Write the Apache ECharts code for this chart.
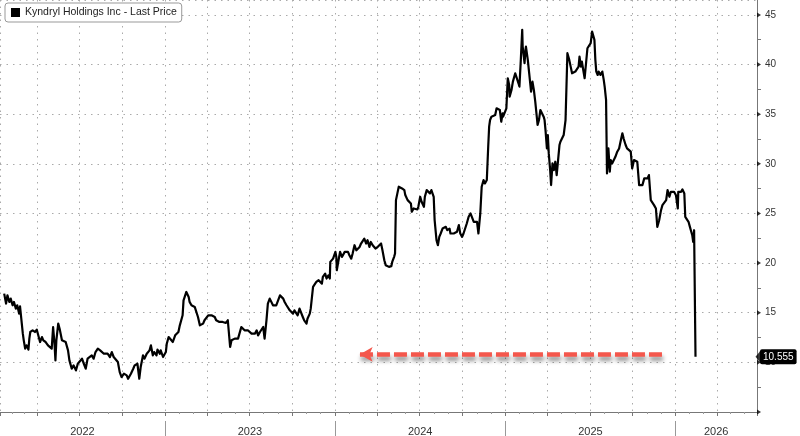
<!DOCTYPE html>
<html>
<head>
<meta charset="utf-8">
<script src="https://cdn.jsdelivr.net/npm/echarts@6/dist/echarts.min.js"></script>
<style>
  html, body { margin: 0; padding: 0; background: #fff; }
  #chart { width: 800px; height: 436px; }
</style>
</head>
<body>
<div id="chart"></div>
<script>
const FONT = "'Liberation Sans', Arial, sans-serif";
const seriesName = "Kyndryl Holdings Inc - Last Price";

// axis range + labels
const xMin = "2022-01-12";
const xMax = "2026-06-25";
const yMin = 5;
const yMax = 46.5;
const yTicks = [5, 10, 15, 20, 25, 30, 35, 40, 45];
const yLabels = [10, 15, 20, 25, 30, 35, 40, 45];
const yearStarts = ["2023-01-01", "2024-01-01", "2025-01-01", "2026-01-01"];
const yearLabels = ["2022", "2023", "2024", "2025", "2026"];

// price, [date, last price]
const px2022 = [
  ["2022-01-21", 16.92], ["2022-01-25", 15.92], ["2022-01-28", 16.76], ["2022-02-01", 16.08], ["2022-02-04", 16.42],
  ["2022-02-08", 15.75], ["2022-02-11", 16.08], ["2022-02-15", 15.41], ["2022-02-18", 15.75], ["2022-02-22", 14.91],
  ["2022-02-24", 15.65], ["2022-02-28", 15.85], ["2022-03-02", 12.89], ["2022-03-04", 12.22], ["2022-03-07", 11.38],
  ["2022-03-10", 11.71], ["2022-03-14", 11.28], ["2022-03-16", 12.39], ["2022-03-18", 13.06], ["2022-03-23", 13.23],
  ["2022-03-28", 13.06], ["2022-04-01", 13.29], ["2022-04-05", 13.39], ["2022-04-08", 12.05], ["2022-04-12", 12.55],
  ["2022-04-15", 12.22], ["2022-04-20", 12.05], ["2022-04-25", 11.71], ["2022-04-29", 11.88], ["2022-05-03", 11.38],
  ["2022-05-06", 13.56], ["2022-05-09", 11.88], ["2022-05-11", 10.2], ["2022-05-13", 12.22], ["2022-05-17", 13.9],
  ["2022-05-20", 13.39], ["2022-05-25", 12.22], ["2022-05-29", 12.39], ["2022-06-02", 12.05], ["2022-06-07", 11.21],
  ["2022-06-10", 10.2], ["2022-06-15", 9.36], ["2022-06-19", 9.7], ["2022-06-24", 9.19], ["2022-06-28", 9.86],
  ["2022-07-01", 10.03], ["2022-07-07", 10.37], ["2022-07-11", 9.86], ["2022-07-15", 9.36], ["2022-07-19", 10.37],
  ["2022-07-22", 10.2], ["2022-07-28", 10.7], ["2022-08-01", 10.37], ["2022-08-05", 11.04], ["2022-08-10", 11.38],
  ["2022-08-15", 11.21], ["2022-08-19", 11.38], ["2022-08-23", 10.87], ["2022-08-26", 10.7], ["2022-08-31", 10.87],
  ["2022-09-05", 10.54], ["2022-09-09", 11.04], ["2022-09-13", 10.54], ["2022-09-16", 10.37], ["2022-09-22", 10.03],
  ["2022-09-26", 9.02], ["2022-09-30", 8.52], ["2022-10-05", 8.86], ["2022-10-11", 8.69], ["2022-10-14", 8.35],
  ["2022-10-20", 8.86], ["2022-10-25", 9.36], ["2022-10-28", 9.7], ["2022-11-03", 9.86], ["2022-11-07", 8.35],
  ["2022-11-10", 9.53], ["2022-11-15", 10.71], ["2022-11-18", 10.37], ["2022-11-23", 10.87], ["2022-11-29", 11.21],
  ["2022-12-02", 11.71], ["2022-12-06", 10.71], ["2022-12-09", 11.04], ["2022-12-14", 10.71], ["2022-12-16", 11.28],
  ["2022-12-21", 10.87], ["2022-12-23", 11.21], ["2022-12-28", 10.54]
];
const px2023 = [
  ["2023-01-03", 11.04], ["2023-01-05", 11.88], ["2023-01-09", 12.55], ["2023-01-11", 12.39], ["2023-01-13", 12.55],
  ["2023-01-18", 12.05], ["2023-01-23", 12.72], ["2023-01-26", 12.89], ["2023-01-30", 13.06], ["2023-02-02", 13.73],
  ["2023-02-06", 13.56], ["2023-02-08", 14.74], ["2023-02-10", 16.25], ["2023-02-13", 16.42], ["2023-02-16", 17.09],
  ["2023-02-21", 16.59], ["2023-02-23", 16.09], ["2023-02-27", 15.75], ["2023-03-02", 15.92], ["2023-03-06", 15.58],
  ["2023-03-10", 15.41], ["2023-03-13", 14.57], ["2023-03-17", 13.73], ["2023-03-20", 13.56], ["2023-03-24", 13.9],
  ["2023-03-27", 14.24], ["2023-03-31", 14.4], ["2023-04-04", 14.74], ["2023-04-06", 14.57], ["2023-04-11", 14.74],
  ["2023-04-14", 14.91], ["2023-04-18", 14.57], ["2023-04-21", 14.24], ["2023-04-25", 14.4], ["2023-04-28", 14.07],
  ["2023-05-02", 14.24], ["2023-05-05", 14.07], ["2023-05-09", 14.24], ["2023-05-12", 13.97], ["2023-05-16", 14.24],
  ["2023-05-19", 14.3], ["2023-05-21", 11.55], ["2023-05-24", 12.22], ["2023-05-27", 12.39], ["2023-05-31", 12.39],
  ["2023-06-03", 12.55], ["2023-06-07", 12.39], ["2023-06-09", 12.55], ["2023-06-14", 13.56], ["2023-06-16", 13.39],
  ["2023-06-21", 13.23], ["2023-06-23", 13.06], ["2023-06-28", 13.23], ["2023-07-02", 13.06], ["2023-07-06", 12.89],
  ["2023-07-10", 13.06], ["2023-07-13", 12.89], ["2023-07-17", 13.22], ["2023-07-20", 12.72], ["2023-07-24", 13.06],
  ["2023-07-28", 13.22], ["2023-07-31", 13.56], ["2023-08-03", 12.38], ["2023-08-07", 14.23], ["2023-08-10", 15.91],
  ["2023-08-14", 16.42], ["2023-08-18", 16.25], ["2023-08-21", 15.75], ["2023-08-25", 15.91], ["2023-08-28", 15.75],
  ["2023-09-01", 16.25], ["2023-09-05", 16.75], ["2023-09-08", 16.85], ["2023-09-12", 16.42], ["2023-09-15", 16.08],
  ["2023-09-19", 15.75], ["2023-09-22", 15.58], ["2023-09-26", 15.24], ["2023-09-29", 15.07], ["2023-10-03", 14.91],
  ["2023-10-06", 15.24], ["2023-10-10", 15.41], ["2023-10-13", 14.74], ["2023-10-17", 15.41], ["2023-10-20", 15.24],
  ["2023-10-24", 14.57], ["2023-10-27", 14.23], ["2023-11-01", 13.9], ["2023-11-03", 14.4], ["2023-11-08", 14.91],
  ["2023-11-10", 15.41], ["2023-11-15", 17.6], ["2023-11-17", 17.76], ["2023-11-22", 18.1], ["2023-11-27", 18.27],
  ["2023-11-29", 18.1], ["2023-12-04", 17.93], ["2023-12-06", 18.6], ["2023-12-11", 18.94], ["2023-12-14", 18.44],
  ["2023-12-18", 18.77], ["2023-12-21", 18.44], ["2023-12-22", 20.12], ["2023-12-28", 20.45]
];
const px2024 = [
  ["2024-01-02", 21.13], ["2024-01-04", 20.62], ["2024-01-05", 19.28], ["2024-01-10", 20.62], ["2024-01-12", 21.13],
  ["2024-01-16", 20.62], ["2024-01-18", 20.79], ["2024-01-22", 21.13], ["2024-01-26", 20.96], ["2024-01-29", 21.13],
  ["2024-02-01", 20.79], ["2024-02-05", 20.45], ["2024-02-08", 20.96], ["2024-02-12", 21.8], ["2024-02-16", 21.29],
  ["2024-02-20", 21.46], ["2024-02-23", 21.63], ["2024-02-26", 21.97], ["2024-03-01", 21.8], ["2024-03-04", 22.47],
  ["2024-03-08", 21.97], ["2024-03-11", 22.3], ["2024-03-15", 21.63], ["2024-03-18", 22.13], ["2024-03-22", 21.8],
  ["2024-03-26", 21.64], ["2024-03-28", 21.47], ["2024-04-02", 21.64], ["2024-04-05", 21.53], ["2024-04-09", 21.97],
  ["2024-04-12", 21.3], ["2024-04-16", 20.29], ["2024-04-19", 19.79], ["2024-04-23", 19.95], ["2024-04-26", 19.62],
  ["2024-05-01", 19.69], ["2024-05-03", 20.12], ["2024-05-07", 20.63], ["2024-05-09", 20.96], ["2024-05-11", 26.34],
  ["2024-05-14", 27.02], ["2024-05-17", 27.69], ["2024-05-21", 27.86], ["2024-05-24", 27.52], ["2024-05-29", 27.35],
  ["2024-05-31", 26.85], ["2024-06-05", 26.34], ["2024-06-07", 26.17], ["2024-06-12", 26.01], ["2024-06-14", 25.17],
  ["2024-06-18", 25.5], ["2024-06-21", 25.33], ["2024-06-26", 25.4], ["2024-06-28", 25.67], ["2024-07-02", 26.68],
  ["2024-07-05", 26.17], ["2024-07-10", 25.67], ["2024-07-12", 26.68], ["2024-07-16", 27.35], ["2024-07-19", 27.52],
  ["2024-07-23", 27.02], ["2024-07-26", 27.35], ["2024-07-31", 26.68], ["2024-08-02", 24.33], ["2024-08-06", 22.31],
  ["2024-08-09", 21.8], ["2024-08-12", 22.64], ["2024-08-15", 22.98], ["2024-08-19", 23.48], ["2024-08-22", 23.32],
  ["2024-08-26", 23.65], ["2024-08-29", 23.32], ["2024-09-03", 23.48], ["2024-09-05", 22.98], ["2024-09-09", 22.81],
  ["2024-09-12", 22.98], ["2024-09-16", 22.81], ["2024-09-19", 23.15], ["2024-09-23", 23.82], ["2024-09-26", 22.98],
  ["2024-09-30", 22.64], ["2024-10-03", 22.98], ["2024-10-07", 22.98], ["2024-10-10", 23.99], ["2024-10-14", 24.66],
  ["2024-10-18", 25.0], ["2024-10-21", 25.07], ["2024-10-25", 24.16], ["2024-10-28", 23.99], ["2024-11-01", 24.16],
  ["2024-11-04", 22.98], ["2024-11-07", 23.15], ["2024-11-08", 25.0], ["2024-11-11", 27.69], ["2024-11-15", 28.36],
  ["2024-11-18", 28.02], ["2024-11-22", 28.36], ["2024-11-25", 31.72], ["2024-11-27", 33.74], ["2024-11-29", 34.41],
  ["2024-12-02", 34.75], ["2024-12-06", 34.58], ["2024-12-10", 34.92], ["2024-12-13", 35.59], ["2024-12-17", 35.76],
  ["2024-12-20", 35.42], ["2024-12-23", 34.24], ["2024-12-26", 35.09], ["2024-12-27", 34.75], ["2024-12-31", 34.58]
];
const px2025 = [
  ["2025-01-03", 35.59], ["2025-01-06", 38.62], ["2025-01-09", 37.94], ["2025-01-10", 36.77], ["2025-01-14", 37.44],
  ["2025-01-17", 38.28], ["2025-01-22", 39.12], ["2025-01-24", 39.29], ["2025-01-29", 38.11], ["2025-01-31", 37.78],
  ["2025-02-03", 40.47], ["2025-02-06", 43.49], ["2025-02-07", 41.81], ["2025-02-11", 40.13], ["2025-02-13", 41.47],
  ["2025-02-14", 41.81], ["2025-02-18", 40.47], ["2025-02-21", 39.12], ["2025-02-25", 37.27], ["2025-02-28", 38.28],
  ["2025-03-03", 37.44], ["2025-03-06", 36.26], ["2025-03-10", 34.41], ["2025-03-11", 33.91], ["2025-03-14", 34.41],
  ["2025-03-17", 35.42], ["2025-03-20", 35.42], ["2025-03-24", 34.75], ["2025-03-26", 34.41], ["2025-03-28", 33.4],
  ["2025-03-31", 31.55], ["2025-04-02", 32.9], ["2025-04-04", 31.05], ["2025-04-07", 29.37], ["2025-04-09", 27.86],
  ["2025-04-12", 30.04], ["2025-04-15", 29.37], ["2025-04-18", 30.21], ["2025-04-21", 28.86], ["2025-04-24", 30.38],
  ["2025-04-27", 31.89], ["2025-04-29", 32.23], ["2025-05-02", 32.4], ["2025-05-06", 32.9], ["2025-05-10", 34.41],
  ["2025-05-12", 37.78], ["2025-05-14", 41.14], ["2025-05-18", 40.47], ["2025-05-21", 39.79], ["2025-05-24", 39.12],
  ["2025-05-27", 38.95], ["2025-05-31", 39.29], ["2025-06-04", 39.46], ["2025-06-07", 39.79], ["2025-06-09", 40.8],
  ["2025-06-12", 39.79], ["2025-06-14", 40.3], ["2025-06-18", 40.13], ["2025-06-20", 38.62], ["2025-06-23", 40.13],
  ["2025-06-26", 41.64], ["2025-06-29", 41.81], ["2025-07-03", 42.15], ["2025-07-06", 43.32], ["2025-07-09", 43.49],
  ["2025-07-11", 42.48], ["2025-07-13", 40.47], ["2025-07-15", 39.29], ["2025-07-18", 38.95], ["2025-07-20", 39.29],
  ["2025-07-24", 38.95], ["2025-07-28", 39.29], ["2025-07-31", 38.45], ["2025-08-02", 37.78], ["2025-08-05", 36.43],
  ["2025-08-07", 29.03], ["2025-08-10", 31.55], ["2025-08-13", 29.2], ["2025-08-15", 30.38], ["2025-08-18", 30.04],
  ["2025-08-22", 30.21], ["2025-08-25", 30.71], ["2025-08-29", 31.22], ["2025-09-02", 31.55], ["2025-09-05", 32.23],
  ["2025-09-09", 33.07], ["2025-09-12", 32.5], ["2025-09-16", 31.89], ["2025-09-19", 31.55], ["2025-09-23", 31.38],
  ["2025-09-27", 31.22], ["2025-09-30", 29.53], ["2025-10-04", 30.38], ["2025-10-08", 30.54], ["2025-10-11", 30.21],
  ["2025-10-15", 27.85], ["2025-10-19", 27.69], ["2025-10-22", 27.85], ["2025-10-26", 28.53], ["2025-10-29", 28.69],
  ["2025-11-02", 28.53], ["2025-11-05", 28.86], ["2025-11-09", 26.34], ["2025-11-13", 26.17], ["2025-11-16", 25.84],
  ["2025-11-20", 25.5], ["2025-11-23", 23.65], ["2025-11-27", 24.32], ["2025-12-01", 25.33], ["2025-12-04", 25.84],
  ["2025-12-08", 26.0], ["2025-12-12", 26.34], ["2025-12-15", 27.35], ["2025-12-19", 26.68], ["2025-12-22", 27.18],
  ["2025-12-26", 27.01], ["2025-12-29", 27.18]
];
const px2026 = [
  ["2026-01-02", 26.84], ["2026-01-06", 25.5], ["2026-01-07", 27.18], ["2026-01-09", 27.01], ["2026-01-13", 27.18],
  ["2026-01-16", 27.42], ["2026-01-20", 27.01], ["2026-01-22", 24.66], ["2026-01-26", 24.49], ["2026-01-29", 24.16],
  ["2026-02-01", 23.65], ["2026-02-03", 23.31], ["2026-02-06", 22.81], ["2026-02-08", 22.14], ["2026-02-10", 23.31],
  ["2026-02-12", 23.48], ["2026-02-13", 10.555]
];

// red annotation arrow, tail -> head
const arrowFrom = ["2025-12-03", 10.8];
const arrowTo = ["2024-02-23", 10.8];

const ts = (s) => echarts.time.parse(s).getTime();
const priceData = [...px2022, ...px2023, ...px2024, ...px2025, ...px2026].map((d) => [ts(d[0]), d[1]]);
const lastPrice = priceData[priceData.length - 1][1];

const dotted = { color: "#aaa", width: 1, type: [1.5, 5] };
const axisGray = "#777";

const chart = echarts.init(document.getElementById("chart"), null, { renderer: "canvas" });

const option = {
  animation: false,
  backgroundColor: "#fff",
  textStyle: { fontFamily: FONT },
  grid: { left: 0, right: 43, top: 0, bottom: 24, containLabel: false },
  legend: {
    left: 5,
    top: 3,
    padding: [4, 5, 4, 6],
    itemWidth: 9,
    itemHeight: 9,
    icon: "rect",
    backgroundColor: "#fff",
    borderColor: "#999",
    borderWidth: 1,
    borderRadius: 3,
    textStyle: { fontFamily: FONT, fontSize: 10.5, color: "#222" },
    data: [{ name: seriesName, itemStyle: { color: "#000" } }]
  },
  xAxis: {
    type: "time",
    min: ts(xMin),
    max: ts(xMax),
    splitNumber: 18,
    axisLine: { lineStyle: { color: axisGray } },
    axisTick: { show: true, length: 4, lineStyle: { color: axisGray } },
    minorTick: { show: true, splitNumber: 3, length: 2, lineStyle: { color: "#999" } },
    axisLabel: { show: false },
    splitLine: { show: true, lineStyle: dotted }
  },
  yAxis: {
    type: "value",
    position: "right",
    min: yMin,
    max: yMax,
    interval: 5,
    axisLine: { show: true, lineStyle: { color: axisGray } },
    axisTick: { show: false },
    minorTick: { show: true, splitNumber: 2, length: 4, lineStyle: { color: axisGray } },
    splitLine: { show: true, lineStyle: dotted },
    axisLabel: {
      margin: 8,
      fontSize: 10,
      color: "#333",
      fontFamily: FONT,
      formatter: (v) => (yLabels.includes(v) ? String(v) : "")
    },
    axisPointer: {
      show: true,
      status: "show",
      value: lastPrice,
      snap: false,
      triggerTooltip: false,
      lineStyle: { opacity: 0 },
      label: {
        show: true,
        margin: 3,
        padding: [3, 3, 2, 3],
        borderRadius: 2,
        backgroundColor: "#000",
        color: "#fff",
        fontFamily: FONT,
        fontSize: 10,
        formatter: () => lastPrice.toFixed(3)
      }
    }
  },
  series: [
    {
      name: seriesName,
      type: "line",
      data: priceData,
      showSymbol: false,
      symbol: "none",
      lineStyle: { color: "#000", width: 2.2, join: "round" },
      itemStyle: { color: "#000" },
      z: 3
    },
    {
      // bloomberg style ▶ tick markers on the price axis
      name: "ticks",
      type: "scatter",
      data: yTicks.map((v) => [ts(xMax), v]),
      symbol: "triangle",
      symbolSize: [5, 4],
      symbolRotate: -90,
      symbolOffset: [2, 0],
      itemStyle: { color: "#000" },
      clip: false,
      silent: true,
      z: 6
    },
    {
      name: "tag",
      type: "scatter",
      data: [[ts(xMax), lastPrice]],
      symbol: "triangle",
      symbolSize: [12, 5],
      symbolRotate: 90,
      symbolOffset: [1, 0],
      itemStyle: { color: "#000" },
      clip: false,
      silent: true,
      z: 6
    },
    {
      name: "arrow",
      type: "line",
      data: [],
      markLine: {
        silent: true,
        symbol: ["none", "arrow"],
        symbolSize: [11, 13],
        label: { show: false },
        lineStyle: {
          color: "#f4574c",
          width: 4.5,
          type: [13, 4],
          shadowColor: "rgba(0,0,0,0.45)",
          shadowBlur: 4,
          shadowOffsetX: 1,
          shadowOffsetY: 4
        },
        data: [[{ coord: [ts(arrowFrom[0]), arrowFrom[1]] }, { coord: [ts(arrowTo[0]), arrowTo[1]] }]]
      },
      z: 4
    }
  ]
};

chart.setOption(option);

// year band under the axis: dividers at year starts, labels centred in each visible year
const toX = (d) => chart.convertToPixel({ xAxisIndex: 0 }, ts(d));
const axisY = chart.convertToPixel({ yAxisIndex: 0 }, yMin);
const edges = [toX(xMin), ...yearStarts.map(toX), toX(xMax)];
const band = [];
yearStarts.forEach((d) => {
  const x = Math.round(toX(d)) + 0.5;
  band.push({ type: "line", silent: true, shape: { x1: x, y1: axisY + 9, x2: x, y2: 436 }, style: { stroke: "#999", lineWidth: 1 } });
});
yearLabels.forEach((t, i) => {
  band.push({
    type: "text",
    silent: true,
    x: (edges[i] + edges[i + 1]) / 2,
    y: axisY + 20,
    style: { text: t, fontFamily: FONT, fontSize: 11, fill: "#333", align: "center", verticalAlign: "middle" }
  });
});
chart.setOption({ graphic: band });
</script>
</body>
</html>
